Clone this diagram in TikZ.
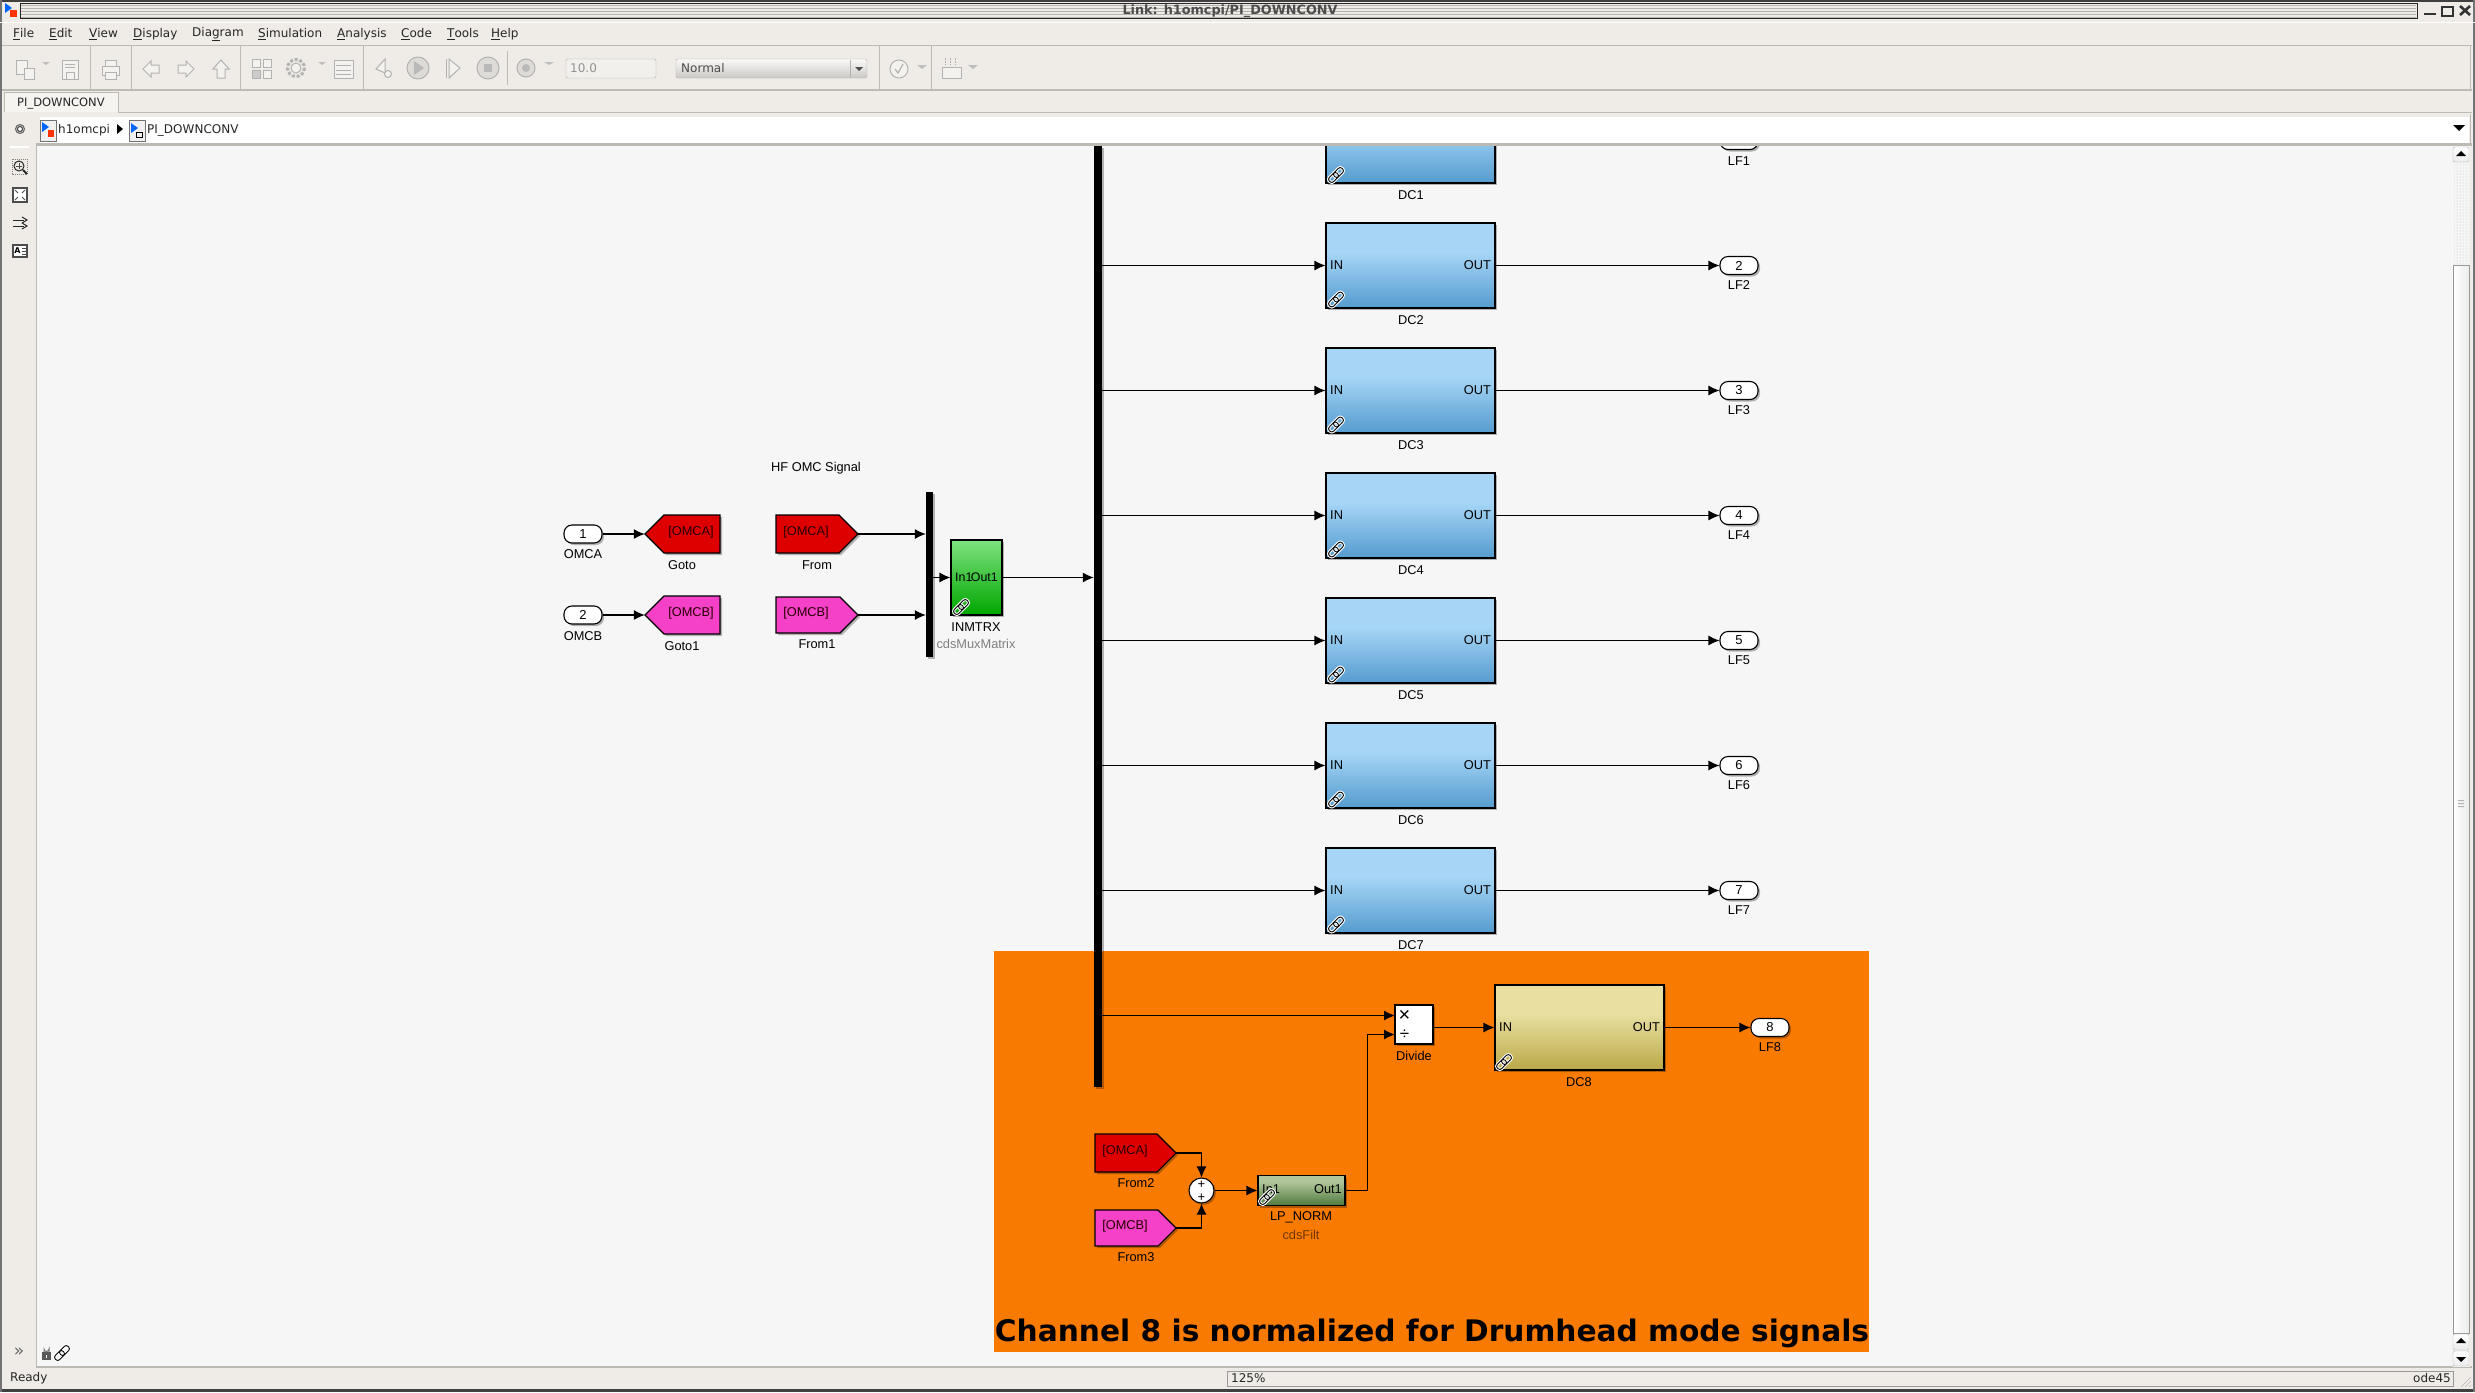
\documentclass[tikz,border=0pt]{standalone}
\usepackage{fontspec}
\setmainfont{Liberation Sans}
\newfontfamily\uifont{DejaVu Sans}
\usetikzlibrary{arrows.meta,shadows,calc,patterns}
\definecolor{canvasbg}{HTML}{F6F6F6}
\definecolor{uibg}{HTML}{EFECE7}
\definecolor{uiline}{HTML}{BDB9B3}
\definecolor{uigray}{HTML}{B4B2AE}
\definecolor{orangebg}{HTML}{F97A00}
\definecolor{redtag}{HTML}{DE0000}
\definecolor{magtag}{HTML}{F540C8}
\definecolor{subtxt}{HTML}{7F7F7F}
\definecolor{blockblueA}{HTML}{A6D5F6}
\definecolor{blockblueB}{HTML}{559CCF}
\definecolor{greenA}{HTML}{7EE27F}
\definecolor{greenB}{HTML}{00A600}
\definecolor{goldA}{HTML}{E8DFA0}
\definecolor{goldB}{HTML}{BAA948}
\definecolor{oliveA}{HTML}{B2C69B}
\definecolor{oliveB}{HTML}{4F7B3E}
\pgfdeclareverticalshading{bluegrad}{100bp}{color(0bp)=(blockblueB);color(25bp)=(blockblueB);color(58bp)=(blockblueA);color(100bp)=(blockblueA)}
\pgfdeclareverticalshading{greengrad}{100bp}{color(0bp)=(greenB);color(25bp)=(greenB);color(75bp)=(greenA);color(100bp)=(greenA)}
\pgfdeclareverticalshading{goldgrad}{100bp}{color(0bp)=(goldB);color(25bp)=(goldB);color(58bp)=(goldA);color(100bp)=(goldA)}
\pgfdeclareverticalshading{olivegrad}{100bp}{color(0bp)=(oliveB);color(25bp)=(oliveB);color(65bp)=(oliveA);color(100bp)=(oliveA)}
\tikzset{
  x=1pt,y=-1pt,
  softshadow/.style={drop shadow={shadow xshift=2pt,shadow yshift=-2pt,fill=black,opacity=.28}},
  blocktxt/.style={font=\fontsize{12.8}{13}\selectfont,inner sep=0pt,text=black},
  subtext/.style={blocktxt,text=subtxt},
  wire/.style={draw=black,line width=1.1pt,-{Latex[length=11pt,width=10pt]}},
  dcblock/.style={draw=black,line width=1.1pt,minimum width=169pt,minimum height=85pt,inner sep=0pt,softshadow},
  port/.style={draw=black,fill=white,line width=1.1pt,rounded corners=8pt,minimum width=38pt,minimum height=18pt,inner sep=0pt,softshadow,font=\fontsize{13}{13}\selectfont},
  bar/.style={fill=black,draw=none,inner sep=0pt,softshadow},
  tagnode/.style={inner sep=0pt,draw=none},
  uitxt/.style={font=\uifont\fontsize{12}{12}\selectfont,inner sep=0pt,anchor=west,text=black!85},
  icon/.style={draw=gray!60,fill=uibg!70!white,line width=1pt},
}
% chain icon: two interlocking links, rising to the right
\newcommand{\chainicon}[1]{%
  \begin{scope}[shift={(#1)},rotate=45]
    \draw[draw=white,line width=3pt,rounded corners=2.5pt] (-9,-3) rectangle (2,3);
    \draw[draw=white,line width=3pt,rounded corners=2.5pt] (-2,-3) rectangle (9,3);
    \draw[draw=black,line width=.9pt,rounded corners=2.5pt] (-9,-3) rectangle (2,3);
    \draw[draw=black,line width=.9pt,rounded corners=2.5pt] (-2,-3) rectangle (9,3);
  \end{scope}}
\newcommand{\tagR}[7]{%
  \node[tagnode,minimum width=#4pt-#2pt,minimum height=#5pt-#3pt] (#1) at ({(#2+#4)/2},{(#3+#5)/2}) {};
  \draw[fill=#6,draw=black,line width=1.1pt,softshadow] (#2,#3) -- ({#4-(#5-#3)/2},#3) -- (#4,{(#3+#5)/2}) -- ({#4-(#5-#3)/2},#5) -- (#2,#5) -- cycle;
  \node[blocktxt,text=black!85!red] at ({#2+30},{(#3+#5)/2-2}) {#7};}
\newcommand{\tagL}[7]{%
  \node[tagnode,minimum width=#4pt-#2pt,minimum height=#5pt-#3pt] (#1) at ({(#2+#4)/2},{(#3+#5)/2}) {};
  \draw[fill=#6,draw=black,line width=1.1pt,softshadow] (#4,#3) -- ({#2+(#5-#3)/2},#3) -- (#2,{(#3+#5)/2}) -- ({#2+(#5-#3)/2},#5) -- (#4,#5) -- cycle;
  \node[blocktxt,text=black!85!red] at ({#4-29},{(#3+#5)/2-2}) {#7};}
\newcommand{\dcrow}[2]{% number, wire y
  \node[dcblock,shading=bluegrad] (dc#1) at (1410.5,#2) {};
  \node[blocktxt,anchor=west] at (1330,#2) {IN};
  \node[blocktxt,anchor=east] at (1491,#2) {OUT};
  \chainicon{1336,#2+34}
  \node[blocktxt] at (1411,#2+54.5) {DC#1};
  \node[port] (lf#1) at (1739,#2) {#1};
  \node[blocktxt] at (1739,#2+20) {LF#1};
  \draw[wire] (dc#1.east) -- (lf#1.west);
  \draw[wire] (dc#1.west -| bus.east) -- (dc#1.west);}
\newcommand{\mn}[2]{\underline{#1}#2}
\begin{document}
\begin{tikzpicture}
\useasboundingbox (0,0) rectangle (2475,1392);
% window background
\fill[uibg] (0,0) rectangle (2475,1392);
% canvas
\fill[canvasbg] (36,146) rectangle (2470,1367);
% orange annotation
\fill[orangebg] (994,951) rectangle (1869,1352);
\node[font=\uifont\bfseries\fontsize{29.65}{29.65}\selectfont,inner sep=0pt,text=black] (note) at (1432,1333.5) {Channel 8 is normalized for Drumhead mode signals};
% bus
\node[bar,minimum width=8pt,minimum height=941pt] (bus) at (1098,616) {};
% DC rows
\dcrow{2}{265.5}
\dcrow{3}{390.5}
\dcrow{4}{515.5}
\dcrow{5}{640.5}
\dcrow{6}{765.5}
\dcrow{7}{890.5}
% DC1 clipped
\begin{scope}
  \clip (1300,146) rectangle (1780,200);
  \node[dcblock,shading=bluegrad] (dc1) at (1410.5,140.5) {};
  \node[port] (lf1) at (1739,140.5) {};
\end{scope}
\chainicon{1336,175}
\node[blocktxt] at (1411,195) {DC1};
\node[blocktxt] at (1739,161) {LF1};
% input side
\node[blocktxt] (title) at (816,468) {HF OMC Signal};
\node[port] (in1) at (583,534) {1};
\node[blocktxt] at (583,554) {OMCA};
\node[port] (in2) at (583,615) {2};
\node[blocktxt] at (583,636) {OMCB};
\tagL{goto}{645}{515}{720}{553}{redtag}{[OMCA]}
\tagL{gotoa}{645}{596}{720}{634}{magtag}{[OMCB]}
\node[blocktxt] at (682,565) {Goto};
\node[blocktxt] at (682,646) {Goto1};
\tagR{from}{776}{515}{858}{553}{redtag}{[OMCA]}
\tagR{froma}{776}{597}{858}{633}{magtag}{[OMCB]}
\node[blocktxt] at (817,565) {From};
\node[blocktxt] at (817,644) {From1};
\node[bar,minimum width=7pt,minimum height=165pt] (mux) at (929.5,574.5) {};
\node[draw=black,line width=1.1pt,minimum width=51pt,minimum height=75pt,inner sep=0pt,softshadow,shading=greengrad] (inm) at (976.5,577.5) {};
\node[blocktxt,anchor=west,font=\fontsize{12.4}{13}\selectfont] at (955,577) {In1};
\node[blocktxt,anchor=east,font=\fontsize{12.4}{13}\selectfont] at (998,577) {Out1};
\chainicon{961,607}
\node[blocktxt] at (976,627) {INMTRX};
\node[subtext] at (976,644) {cdsMuxMatrix};
\draw[wire] (in1.east) -- (goto.west);
\draw[wire] (in2.east) -- (gotoa.west);
\draw[wire] (from.east) -- (from.east -| mux.west);
\draw[wire] (froma.east) -- (froma.east -| mux.west);
\draw[wire] (mux.east |- inm.west) -- (inm.west);
\draw[wire] (inm.east) -- (inm.east -| bus.west);
% channel 8
\node[draw=black,fill=white,line width=1.1pt,minimum width=38pt,minimum height=39pt,inner sep=0pt,softshadow] (div) at (1414,1024.5) {};
\node[blocktxt,font=\fontsize{20}{20}\selectfont] at (1404.5,1016) {×};
\node[blocktxt,font=\fontsize{17}{17}\selectfont] at (1404.5,1035) {÷};
\coordinate (divA) at (1395,1015.5);
\coordinate (divB) at (1395,1034.5);
\node[blocktxt] at (1414,1056) {Divide};
\draw[wire] (bus.east |- divA) -- (divA);
\node[draw=black,line width=1.1pt,minimum width=169pt,minimum height=85pt,inner sep=0pt,softshadow,shading=goldgrad] (dc8) at (1579.5,1027.5) {};
\node[blocktxt,anchor=west] at (1499,1027) {IN};
\node[blocktxt,anchor=east] at (1660,1027) {OUT};
\chainicon{1504,1062}
\node[blocktxt] at (1579,1082) {DC8};
\draw[wire] (div.east |- dc8.west) -- (dc8.west);
\node[port] (lf8) at (1770,1027.5) {8};
\node[blocktxt] at (1770,1047) {LF8};
\draw[wire] (dc8.east) -- (lf8.west);
\tagR{fromb}{1095}{1134}{1176}{1172}{redtag}{[OMCA]}
\tagR{fromc}{1095}{1210}{1176}{1246}{magtag}{[OMCB]}
\node[blocktxt] at (1136,1183) {From2};
\node[blocktxt] at (1136,1257) {From3};
\node[draw=black,fill=white,line width=1.1pt,circle,minimum size=25pt,inner sep=0pt,softshadow] (sum) at (1201.5,1190.5) {};
\node[blocktxt,font=\fontsize{13}{13}\selectfont] at (1201.5,1184.5) {+};
\node[blocktxt,font=\fontsize{13}{13}\selectfont] at (1201.5,1197.5) {+};
\node[draw=black,line width=1.1pt,minimum width=87pt,minimum height=30pt,inner sep=0pt,softshadow,shading=olivegrad] (lp) at (1301.5,1190.5) {};
\node[blocktxt,anchor=west] at (1262,1189) {In1};
\node[blocktxt,anchor=east] at (1342,1189) {Out1};
\chainicon{1267,1197}
\node[blocktxt] at (1301,1217) {LP\_NORM};
\node[subtext,text=black!55!orangebg] at (1301,1235) {cdsFilt};
\draw[wire] (fromb.east) -| (sum.north);
\draw[wire] (fromc.east) -| (sum.south);
\draw[wire] (sum.east) -- (lp.west);
\coordinate (riser) at (1367.5,1190.5);
\draw[wire] (lp.east) -- (riser) -- (riser |- divB) -- (divB);
% ---- window chrome (covers) ----
\fill[uibg] (0,0) rectangle (2475,146);
\fill[uibg] (0,1367) rectangle (2475,1392);
\fill[uibg] (2470,146) rectangle (2475,1367);
\fill[black!75] (0,0) rectangle (2475,2);
\fill[black!75] (0,1389) rectangle (2475,1392);
\fill[black!55] (0,0) rectangle (2,1392);
\fill[black!55] (2473,0) rectangle (2475,1392);
% title bar
\foreach \yy in {5,8,...,17} {\draw[uigray,line width=1pt] (21,\yy) -- (2416,\yy);}
\draw[black!85,line width=1pt] (20,3) rectangle (2417,18.5);
\node[font=\uifont\bfseries\fontsize{12.8}{12.8}\selectfont,inner sep=0pt,text=black!70] (wintitle) at (1230,11.5) {Link: h1omcpi/PI\_DOWNCONV};
% window icon + buttons
\fill[blue!60!cyan] (5,3) -- (12,8) -- (5,13) -- cycle;
\fill[red!60!orange] (10,10) rectangle (17,17);
\draw[black!80,line width=1.6pt] (2424,14) -- (2436,14);
\draw[black!80,line width=1.2pt] (2442,7) rectangle (2453,16);
\draw[black!80,line width=2pt] (2442,7) -- (2453,7);
\draw[black!80,line width=2.6pt] (2460,6) -- (2470,15) (2470,6) -- (2460,15);
% menu
\draw[white,line width=1pt] (0,22) -- (2475,22);
\foreach \mx/\mtxt in {13/\mn{F}{ile},49/\mn{E}{dit},89/\mn{V}{iew},133/\mn{D}{isplay},192/Dia\mn{g}{ram},258/\mn{S}{imulation},337/\mn{A}{nalysis},401/\mn{C}{ode},447/\mn{T}{ools},491/\mn{H}{elp}}
  {\node[uitxt] at (\mx,34) {\mtxt};}
\draw[uiline,line width=1pt] (2,45) -- (2472,45);
\draw[uiline,line width=2.5pt] (2,90) -- (2472,90);
\draw[uiline,line width=1pt] (2470,45) -- (2470,90);
\foreach \sx in {90,131,240,363,879,931} {\draw[uiline,line width=1pt] (\sx,46) -- (\sx,89);}
\draw[uiline,line width=1pt] (507,51) -- (507,85);
% toolbar icons (disabled)
\draw[icon] (16,60) rectangle (27,74); \draw[icon] (24,68) rectangle (34,79);
\fill[gray!50] (46,65) -- (42,62) -- (50,62) -- cycle;
\draw[icon] (62,60) rectangle (78,79); \draw[icon] (66,72) rectangle (74,79); \draw[gray!60] (65,64) -- (75,64) (65,67) -- (75,67);
\draw[icon] (102,66) rectangle (119,75); \draw[icon] (105,60) rectangle (116,66); \draw[icon] (105,72) rectangle (116,79);
\draw[icon] (143,69) -- (151,61) -- (151,65) -- (159,65) -- (159,73) -- (151,73) -- (151,77) -- cycle;
\draw[icon] (194,69) -- (186,61) -- (186,65) -- (178,65) -- (178,73) -- (186,73) -- (186,77) -- cycle;
\draw[icon] (221,60) -- (229,69) -- (225,69) -- (225,78) -- (217,78) -- (217,69) -- (213,69) -- cycle;
\draw[icon] (252,59) rectangle (260,67); \draw[icon] (263,59) rectangle (271,67); \draw[icon,fill=gray!40] (252,70) rectangle (260,78); \draw[icon] (263,70) rectangle (271,78);
\draw[gray!60,line width=3pt,dash pattern=on 3pt off 1.8pt] (296,68) circle (8.5); \draw[icon] (296,68) circle (5);
\fill[gray!50] (322,65) -- (318,62) -- (326,62) -- cycle;
\draw[icon] (334,60) rectangle (353,78); \foreach \yy in {65,70,74} {\draw[gray!60] (336,\yy) -- (351,\yy);}
\draw[icon] (376,69) -- (385,59) -- (385,73) -- cycle; \draw[icon] (388,74) circle (3.5);
\draw[icon,fill=uibg!93!black] (418,68) circle (11); \fill[gray!55] (414,61) -- (424,68) -- (414,75) -- cycle;
\draw[icon] (446,59) -- (446,78); \draw[icon] (449,59) -- (460,68) -- (449,78) -- cycle;
\draw[icon,fill=uibg!93!black] (488,68) circle (11); \fill[gray!55] (484,64) rectangle (492,72);
\draw[icon,fill=uibg!93!black] (526,68) circle (9); \fill[gray!55] (526,68) circle (4);
\fill[gray!50] (549,65) -- (544,62) -- (554,62) -- cycle;
\draw[uigray,fill=uibg!80!white,rounded corners=2pt] (566,59) rectangle (656,78);
\node[uitxt,text=gray!85] at (570,68.5) {10.0};
\draw[uigray,top color=white!70!uibg,bottom color=uibg!85!black,rounded corners=2pt] (676,59) rectangle (867,78);
\draw[uigray] (850,60) -- (850,77);
\node[uitxt,text=black!70] at (681,68.5) {Normal};
\fill[black!70] (859,71) -- (855,67) -- (863,67) -- cycle;
\draw[icon,fill=uibg!70!white] (899,69) circle (9); \draw[gray!60,line width=1.2pt] (895,69) -- (898,73) -- (903,64);
\fill[gray!50] (922,69) -- (917,65) -- (927,65) -- cycle;
\draw[icon] (942,67) rectangle (961,78); \foreach \xx in {945,950,955} {\draw[gray!60,densely dotted] (\xx,58) -- (\xx,65);}
\fill[gray!50] (973,69) -- (968,65) -- (978,65) -- cycle;
% tab
\fill[uibg!60!white] (4,92) rectangle (118,112);
\draw[uiline,line width=1pt] (4,112) -- (4,92) -- (118,92) -- (118,112);
\draw[uiline,line width=1pt] (118,112) -- (2472,112);
\node[uitxt,font=\uifont\fontsize{11.5}{11.5}\selectfont] at (17,103.5) {PI\_DOWNCONV};
% address bar
\fill[white] (40,117) rectangle (2469,143);
\draw[uiline,line width=3pt] (36,144.5) -- (2472,144.5);
\draw[uiline,line width=1pt] (2470,114) -- (2470,145);
\draw[uiline,line width=1pt] (36,146) -- (36,1367);
\draw[uiline,line width=2pt] (36,1367) -- (2472,1367);
\draw[black!55,line width=1pt,fill=gray!12] (40,120) rectangle (56,141);
\fill[blue!60!cyan] (42,122) -- (49,127) -- (42,132) -- cycle;
\fill[red!60!orange] (48,130) rectangle (54,137);
\node[uitxt] at (58,130) {h1omcpi};
\fill[black] (117,124) -- (123,129) -- (117,134) -- cycle;
\draw[black!55,line width=1pt,fill=gray!12] (129,120) rectangle (145,141);
\fill[blue!60!cyan] (131,123) -- (138,128) -- (131,133) -- cycle;
\draw[black] (136,132) rectangle (142,137);
\node[uitxt] at (147,130) {PI\_DOWNCONV};
\fill[black] (2459,131) -- (2453,125) -- (2465,125) -- cycle;
% left palette
\draw[black!60,fill=gray!40,line width=1pt] (20,129) circle (4.5);
\draw[black!75,fill=white,line width=1pt] (20,129) circle (2.5);
\draw[white,line width=1.2pt] (10,147) -- (29,147);
\draw[black!50,densely dotted,line width=1pt] (12,159) rectangle (27,174);
\draw[black!85,line width=1pt] (19,166) circle (5); \draw[black!85,line width=2pt] (23,170) -- (27,174);
\draw[black!70] (16,166) -- (22,166) (19,163) -- (19,169);
\draw[black!70,fill=white,line width=1.2pt] (13,188) rectangle (27,202);
\draw[black!70,line width=1pt] (15,190) -- (18,193) (25,190) -- (22,193) (15,200) -- (18,197) (25,200) -- (22,197);
\draw[black!85,line width=1pt] (13,220) -- (24,220) (13,226) -- (24,226);
\draw[black!85,line width=1pt] (22,217) -- (27,220) -- (22,223) (22,223) -- (27,226) -- (22,229);
\draw[black!70,fill=white,line width=1.2pt] (13,245) rectangle (27,257);
\node[font=\uifont\bfseries\fontsize{8}{8}\selectfont,inner sep=0pt] at (17.5,251) {A};
\draw[black!70] (22,248) -- (26,248) (22,251) -- (26,251) (22,254) -- (26,254);
% scrollbar
\fill[canvasbg] (2453,146) rectangle (2470,1367);
\fill[pattern=dots,pattern color=gray!50] (2454,162) rectangle (2469,264);
\draw[gray!60,top color=white,bottom color=gray!15,rounded corners=2pt] (2453,147) rectangle (2469,162);
\fill[black] (2461,151) -- (2466,156) -- (2456,156) -- cycle;
\draw[gray!80,left color=white,right color=gray!15] (2453,265) rectangle (2469,1333);
\draw[gray!60,top color=white,bottom color=gray!15,rounded corners=2pt] (2453,1334) rectangle (2469,1350);
\fill[black] (2461,1338) -- (2466,1343) -- (2456,1343) -- cycle;
\draw[gray!60,top color=white,bottom color=gray!15,rounded corners=2pt] (2453,1351) rectangle (2469,1366);
\fill[black] (2461,1362) -- (2466,1357) -- (2456,1357) -- cycle;
\fill[black!30] (2458,800) rectangle (2464,801) (2458,803) rectangle (2464,804) (2458,806) rectangle (2464,807);
% bottom-left
\node[font=\uifont\fontsize{17}{17}\selectfont,inner sep=0pt,text=black!60] at (19,1352) {»};
\fill[black!65] (42,1352) rectangle (51,1360);
\draw[black!55,line width=1pt] (44,1352) -- (44,1349) arc (180:0:2.5) -- (49,1352);
\fill[white] (46,1355) rectangle (47,1358);
\chainicon{62,1353}
% status bar
\node[uitxt] at (10,1378) {Ready};
\draw[gray!80,line width=1pt] (1227,1386) -- (1227,1371) -- (2453,1371) -- (2453,1386) -- cycle;
\node[uitxt] at (1231,1378.5) {125\%};
\node[uitxt,anchor=east] at (2451,1378.5) {ode45};
\draw[gray!70] (2461,1387) -- (2471,1377) (2465,1387) -- (2471,1381) (2469,1387) -- (2471,1385);
\end{tikzpicture}
\end{document}
